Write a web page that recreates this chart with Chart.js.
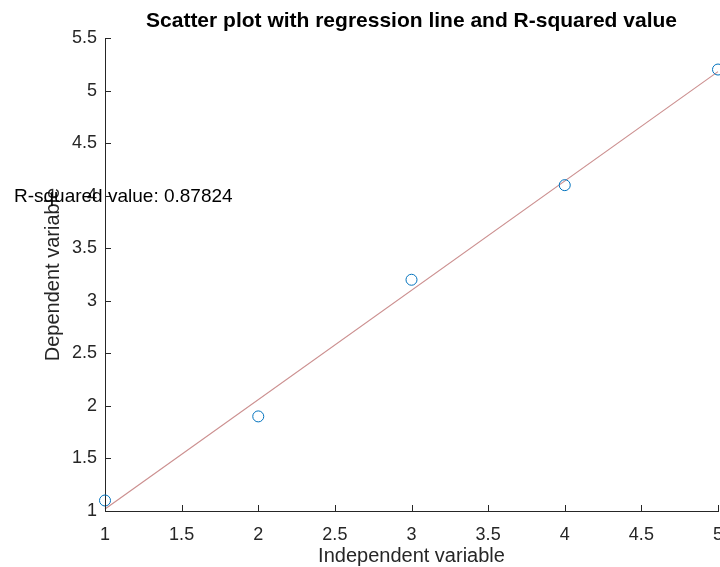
<!DOCTYPE html>
<html>
<head>
<meta charset="utf-8">
<script src="https://cdn.jsdelivr.net/npm/chart.js@4"></script>
<style>
  html, body { margin: 0; padding: 0; background: #fff; }
  #wrap { width: 720px; height: 567px; }
</style>
</head>
<body>
<div id="wrap"><canvas id="chart" width="720" height="567"></canvas></div>
<script>
// ─── DATA ──────────────────────────────────────────────────
const xValues = [1, 2, 3, 4, 5];
const yValues = [1.1, 1.9, 3.2, 4.1, 5.2];
const rSquaredText = 'R-squared value: 0.87824';
const rLabelPos = { x: 0.406, y: 4 };

// least squares fit for the line
const n = xValues.length;
const mx = xValues.reduce((a, b) => a + b, 0) / n;
const my = yValues.reduce((a, b) => a + b, 0) / n;
let sxy = 0, sxx = 0;
xValues.forEach((x, i) => { sxy += (x - mx) * (yValues[i] - my); sxx += (x - mx) ** 2; });
const slope = sxy / sxx;
const intercept = my - slope * mx;
const fitX = [Math.min(...xValues), Math.max(...xValues)];

const FONT = '"Liberation Sans", Arial, Helvetica, sans-serif';
const AXIS = '#262626';
const fmt = v => String(Math.round(v * 10) / 10);

// ─── PLUGIN: inward ticks + texts ──────────────────────────
const decor = {
  id: 'decor',
  afterDraw(chart) {
    const { ctx, chartArea: a, scales: { x, y } } = chart;
    ctx.save();
    ctx.strokeStyle = AXIS;
    ctx.lineWidth = 1;
    ctx.beginPath();
    x.ticks.forEach(t => {
      const px = Math.round(x.getPixelForValue(t.value)) + 0.5;
      ctx.moveTo(px, a.bottom); ctx.lineTo(px, a.bottom - 6);
    });
    y.ticks.forEach(t => {
      const py = Math.round(y.getPixelForValue(t.value)) + 0.5;
      ctx.moveTo(a.left, py); ctx.lineTo(a.left + 6, py);
    });
    ctx.stroke();

    ctx.fillStyle = '#000';
    ctx.textAlign = 'center';
    ctx.textBaseline = 'middle';
    ctx.font = `bold 21px ${FONT}`;
    ctx.fillText('Scatter plot with regression line and R-squared value', (a.left + a.right) / 2, 21);

    ctx.fillStyle = AXIS;
    ctx.font = `20px ${FONT}`;
    ctx.fillText('Independent variable', (a.left + a.right) / 2, 556);
    ctx.save();
    ctx.translate(53, (a.top + a.bottom) / 2);
    ctx.rotate(-Math.PI / 2);
    ctx.fillText('Dependent variable', 0, 0);
    ctx.restore();

    ctx.fillStyle = '#000';
    ctx.textAlign = 'left';
    ctx.font = `19px ${FONT}`;
    ctx.fillText(rSquaredText, x.getPixelForValue(rLabelPos.x), y.getPixelForValue(rLabelPos.y) + 1);
    ctx.restore();
  }
};

new Chart(document.getElementById('chart'), {
  type: 'scatter',
  data: {
    datasets: [
      {
        data: xValues.map((x, i) => ({ x, y: yValues[i] })),
        showLine: false,
        pointStyle: 'circle',
        pointRadius: 5.5,
        pointBorderWidth: 1,
        borderColor: '#0072BD',
        backgroundColor: 'rgba(0,0,0,0)',
        clip: false,
      },
      {
        type: 'line',
        data: fitX.map(x => ({ x, y: intercept + slope * x })),
        borderColor: '#cc9090',
        borderWidth: 1.2,
        pointRadius: 0,
        fill: false,
        clip: false,
      },
    ],
  },
  options: {
    responsive: false,
    animation: false,
    layout: { autoPadding: false, padding: { left: 0, right: 2, top: 38, bottom: 0 } },
    plugins: { legend: { display: false }, tooltip: { enabled: false } },
    scales: {
      x: {
        type: 'linear', min: 1, max: 5,
        grid: { display: false, drawTicks: false },
        border: { display: true, color: AXIS, width: 1 },
        ticks: { stepSize: 0.5, padding: 13, color: AXIS, font: { family: FONT, size: 18 }, maxRotation: 0, callback: fmt },
        afterFit(s) { s.height = 56; s.paddingLeft = 0; s.paddingRight = 0; },
      },
      y: {
        type: 'linear', min: 1, max: 5.5,
        grid: { display: false, drawTicks: false },
        border: { display: true, color: AXIS, width: 1 },
        ticks: { stepSize: 0.5, padding: 8, color: AXIS, font: { family: FONT, size: 18 }, callback: fmt },
        afterFit(s) { s.width = 105; s.paddingTop = 0; s.paddingBottom = 0; },
      },
    },
  },
  plugins: [decor],
});
</script>
</body>
</html>
